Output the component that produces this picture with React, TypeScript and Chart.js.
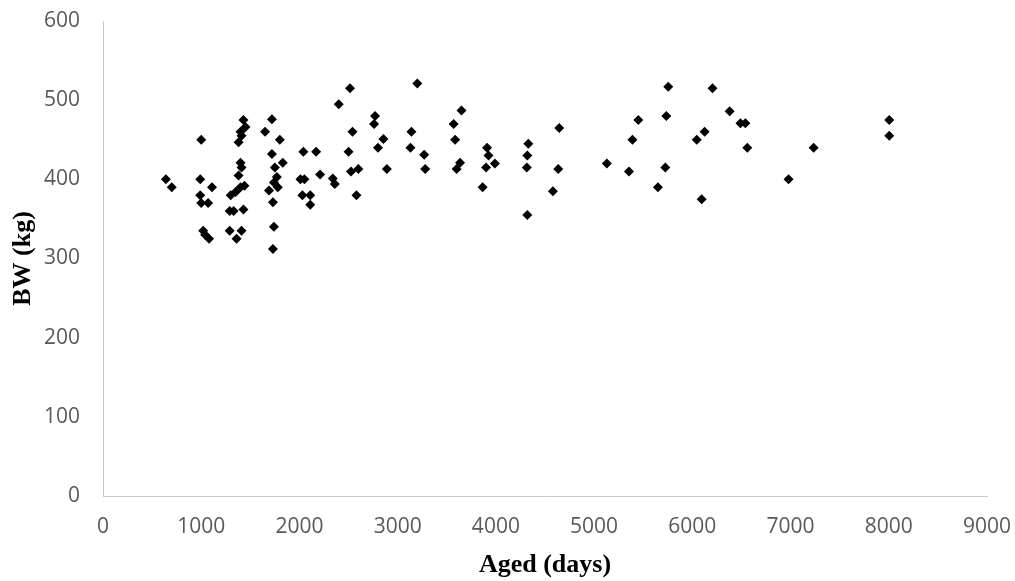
import React, { useEffect, useRef } from "react";
import { Chart, registerables } from "chart.js";

Chart.register(...registerables);

// Age of animal (days)
const ages: number[] = [
  640, 700, 1000, 990, 1110, 990, 1000, 1070, 1020, 1040, 1080,
  1290, 1360, 1410, 1290, 1330, 1430, 1300, 1350, 1400, 1440, 1380,
  1410, 1400, 1380, 1410, 1400, 1450, 1430,
  1650, 1720, 1800, 1720, 1830, 1750, 1770, 1740, 1690, 1780, 1730, 1740, 1730,
  2040, 2170, 2010, 2050, 2210, 2340, 2360, 2030, 2110, 2110,
  2515, 2400, 2540, 2500, 2525, 2600, 2580, 2770, 2760, 2855, 2800, 2890,
  3200, 3140, 3130, 3270, 3280, 3650, 3570, 3585, 3635, 3600,
  3865, 3910, 3925, 3900, 3990, 4330, 4320, 4315, 4320, 4645, 4635, 4580,
  5130, 5450, 5390, 5355, 5755, 5735, 5725, 5650,
  6205, 6380, 6490, 6540, 6560, 6125, 6045, 6095, 6980, 7235, 8005, 8005,
];

// Body weight (kg)
const bw: number[] = [
  400, 390, 450, 400, 390, 380, 370, 370, 335, 330, 325,
  335, 325, 335, 360, 360, 362, 380, 384, 390, 392, 405,
  415, 421, 447, 455, 460, 466, 475,
  460, 476, 450, 432, 421, 415, 403, 396, 386, 390, 371, 340, 312,
  435, 435, 400, 400, 406, 401, 394, 380, 380, 368,
  515, 495, 460, 435, 410, 413, 380, 480, 470, 451, 440, 413,
  521, 460, 440, 431, 413, 487, 470, 450, 421, 413,
  390, 440, 430, 415, 420, 445, 430, 415, 355, 465, 413, 385,
  420, 475, 450, 410, 517, 480, 415, 390,
  515, 486, 471, 471, 440, 460, 450, 375, 400, 440, 475, 455,
];

const xTitle = "Aged (days)";
const yTitle = "BW (kg)";

export default function App() {
  const ref = useRef<HTMLCanvasElement | null>(null);

  useEffect(() => {
    const canvas = ref.current;
    if (!canvas) return;
    const points = ages.map((a, i) => ({ x: a, y: bw[i] }));
    const tickFont = { family: "'Open Sans', sans-serif", size: 21 };
    const titleFont = { family: "'Liberation Serif', 'Times New Roman', serif", size: 26, weight: "bold" as const };
    const plain = (v: any) => String(v);
    const chart = new Chart(canvas, {
      type: "scatter",
      data: {
        datasets: [
          {
            data: points,
            pointStyle: "rectRot",
            pointRadius: 5,
            pointHoverRadius: 5,
            pointBackgroundColor: "#000000",
            pointBorderColor: "#000000",
            pointBorderWidth: 0,
          },
        ],
      },
      options: {
        animation: false,
        responsive: false,
        devicePixelRatio: 1,
        layout: { padding: { top: 21, right: 28, left: 0, bottom: 0 } },
        plugins: { legend: { display: false }, tooltip: { enabled: false } },
        scales: {
          x: {
            type: "linear",
            min: 0,
            max: 9000,
            ticks: { stepSize: 1000, color: "#595959", font: tickFont, padding: 0, maxRotation: 0, callback: plain },
            grid: { display: true, drawOnChartArea: false, drawTicks: true, tickLength: 18, color: "rgba(0,0,0,0)", tickColor: "rgba(0,0,0,0)" },
            border: { display: true, color: "#c8c8c8", width: 1 },
            title: { display: true, text: xTitle, color: "#000000", font: titleFont, padding: { top: 4, bottom: 0 } },
            afterFit: (s: any) => {
              s.height = 85;
            },
          },
          y: {
            type: "linear",
            min: 0,
            max: 600,
            ticks: { stepSize: 100, color: "#595959", font: tickFont, padding: 0, callback: plain },
            grid: { display: true, drawOnChartArea: false, drawTicks: true, tickLength: 23, color: "rgba(0,0,0,0)", tickColor: "rgba(0,0,0,0)" },
            border: { display: true, color: "#c8c8c8", width: 1 },
            title: { display: true, text: yTitle, color: "#000000", font: titleFont, padding: { top: 8, bottom: 0 } },
            afterFit: (s: any) => {
              s.width = 103;
            },
          },
        },
      },
    });
    return () => chart.destroy();
  }, []);

  return (
    <div style={{ position: "absolute", left: 0, top: 0, width: 1015, height: 581, background: "#ffffff" }}>
      <canvas ref={ref} width={1015} height={581} style={{ display: "block", width: 1015, height: 581 }} />
    </div>
  );
}
